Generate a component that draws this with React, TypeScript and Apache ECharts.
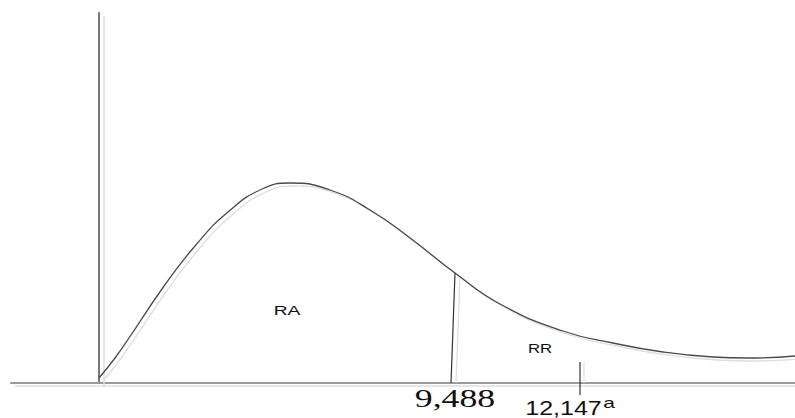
import React, { useEffect, useRef } from "react";
import * as echarts from "echarts";

// Hand-drawn chi-square density sketch (arbitrary units)
const curveX = [0, 16, 30, 63, 96, 129, 163, 191, 231, 271, 311, 356, 401, 464, 514, 564, 614, 648, 696];
const curveY = [5, 25, 45, 94, 137, 171, 194, 200, 193, 173, 145, 110, 79, 52, 40, 31, 26, 25, 27];

// Critical value line (9,488) and tick (12,147)
const criticalLineX = [356, 352];
const criticalLineY = [110, 0];
const tickLineX = [481, 481];
const tickLineY = [21, -12];

const tickLabels = ["9,488", "12,147"];
const tickSuperscript = "a";
const regionLabels = ["RA", "RR"];
const regionX = [188, 441];
const regionY = [72, 34];

const X_MIN = -88;
const X_MAX = 696;
const Y_MIN = 0;
const Y_MAX = 370;

const pairs = (xs: number[], ys: number[]) => xs.map((x, i) => [x, ys[i]]);

export default function App() {
  const ref = useRef<HTMLDivElement>(null);
  useEffect(() => {
    if (!ref.current) return;
    const chart = echarts.init(ref.current, null, { renderer: "svg" });
    const SHADOW = "#dedede";
    chart.setOption({
      animation: false,
      backgroundColor: "#ffffff",
      grid: { left: 11, right: 0, top: 13, bottom: 35 },
      xAxis: {
        type: "value",
        min: X_MIN,
        max: X_MAX,
        axisLine: { show: true, onZero: true, lineStyle: { color: "#9a9a9a", width: 2 } },
        axisTick: { show: false },
        axisLabel: { show: false },
        splitLine: { show: false },
      },
      yAxis: {
        type: "value",
        min: Y_MIN,
        max: Y_MAX,
        axisLine: { show: true, onZero: true, lineStyle: { color: "#777777", width: 2 } },
        axisTick: { show: false },
        axisLabel: { show: false },
        splitLine: { show: false },
      },
      series: [
        // faint offset shadows of the axes and marks
        {
          type: "line",
          data: [[X_MIN + 4, -3], [X_MAX, -3]],
          showSymbol: false,
          clip: false,
          silent: true,
          z: 1,
          lineStyle: { color: SHADOW, width: 1.5 },
        },
        {
          type: "line",
          data: [[5, -3], [5, Y_MAX - 3]],
          showSymbol: false,
          clip: false,
          silent: true,
          z: 1,
          lineStyle: { color: SHADOW, width: 1.5 },
        },
        {
          type: "line",
          data: pairs(tickLineX.map((x) => x + 4), tickLineY.map((y) => Math.max(y, 0))),
          showSymbol: false,
          clip: false,
          silent: true,
          z: 1,
          lineStyle: { color: SHADOW, width: 1.2 },
        },
        {
          type: "line",
          data: pairs(criticalLineX.map((x) => x + 5), criticalLineY.map((y, i) => (i === 0 ? y - 3 : y))),
          showSymbol: false,
          clip: false,
          silent: true,
          z: 1,
          lineStyle: { color: SHADOW, width: 1.2 },
        },
        {
          type: "line",
          data: pairs(curveX.map((x) => x + 4), curveY.map((y) => y - 3)),
          smooth: 0.5,
          showSymbol: false,
          clip: false,
          silent: true,
          z: 1,
          lineStyle: { color: SHADOW, width: 1.3 },
        },
        // main marks
        {
          type: "line",
          data: pairs(curveX, curveY),
          smooth: 0.5,
          showSymbol: false,
          clip: false,
          z: 3,
          lineStyle: { color: "#4a4a4a", width: 1.3 },
        },
        {
          type: "line",
          data: pairs(criticalLineX, criticalLineY),
          showSymbol: false,
          clip: false,
          z: 3,
          lineStyle: { color: "#333333", width: 1.2 },
        },
        {
          type: "line",
          data: pairs(tickLineX, tickLineY),
          showSymbol: false,
          clip: false,
          z: 3,
          lineStyle: { color: "#333333", width: 1.2 },
        },
      ],
    });

    const px = (x: number, y: number) => chart.convertToPixel({ gridIndex: 0 }, [x, y]) as number[];
    const critBase = px(criticalLineX[0], 0);
    const tickBase = px(tickLineX[0], 0);
    const ra = px(regionX[0], regionY[0]);
    const rr = px(regionX[1], regionY[1]);
    const txt = (x: number, y: number, text: string, font: string, scaleX: number) => ({
      type: "text",
      x,
      y,
      scaleX,
      style: { x: 0, y: 0, text, font, fill: "#111111", textAlign: "center", textVerticalAlign: "middle" },
    });
    chart.setOption({
      graphic: [
        txt(critBase[0], critBase[1] + 15.5, tickLabels[0], "25px 'Liberation Serif'", 1.43),
        txt(tickBase[0] - 16.5, tickBase[1] + 25, tickLabels[1], "20px 'Liberation Sans'", 1.25),
        txt(tickBase[0] + 29, tickBase[1] + 20, tickSuperscript, "14px 'Liberation Sans'", 1.5),
        txt(ra[0], ra[1], regionLabels[0], "12px 'Liberation Sans'", 1.6),
        txt(rr[0], rr[1], regionLabels[1], "12px 'Liberation Sans'", 1.4),
      ],
    });
    return () => chart.dispose();
  }, []);
  return (
    <div
      ref={ref}
      style={{ position: "fixed", left: 0, top: 0, width: 795, height: 418, background: "#ffffff" }}
    />
  );
}
